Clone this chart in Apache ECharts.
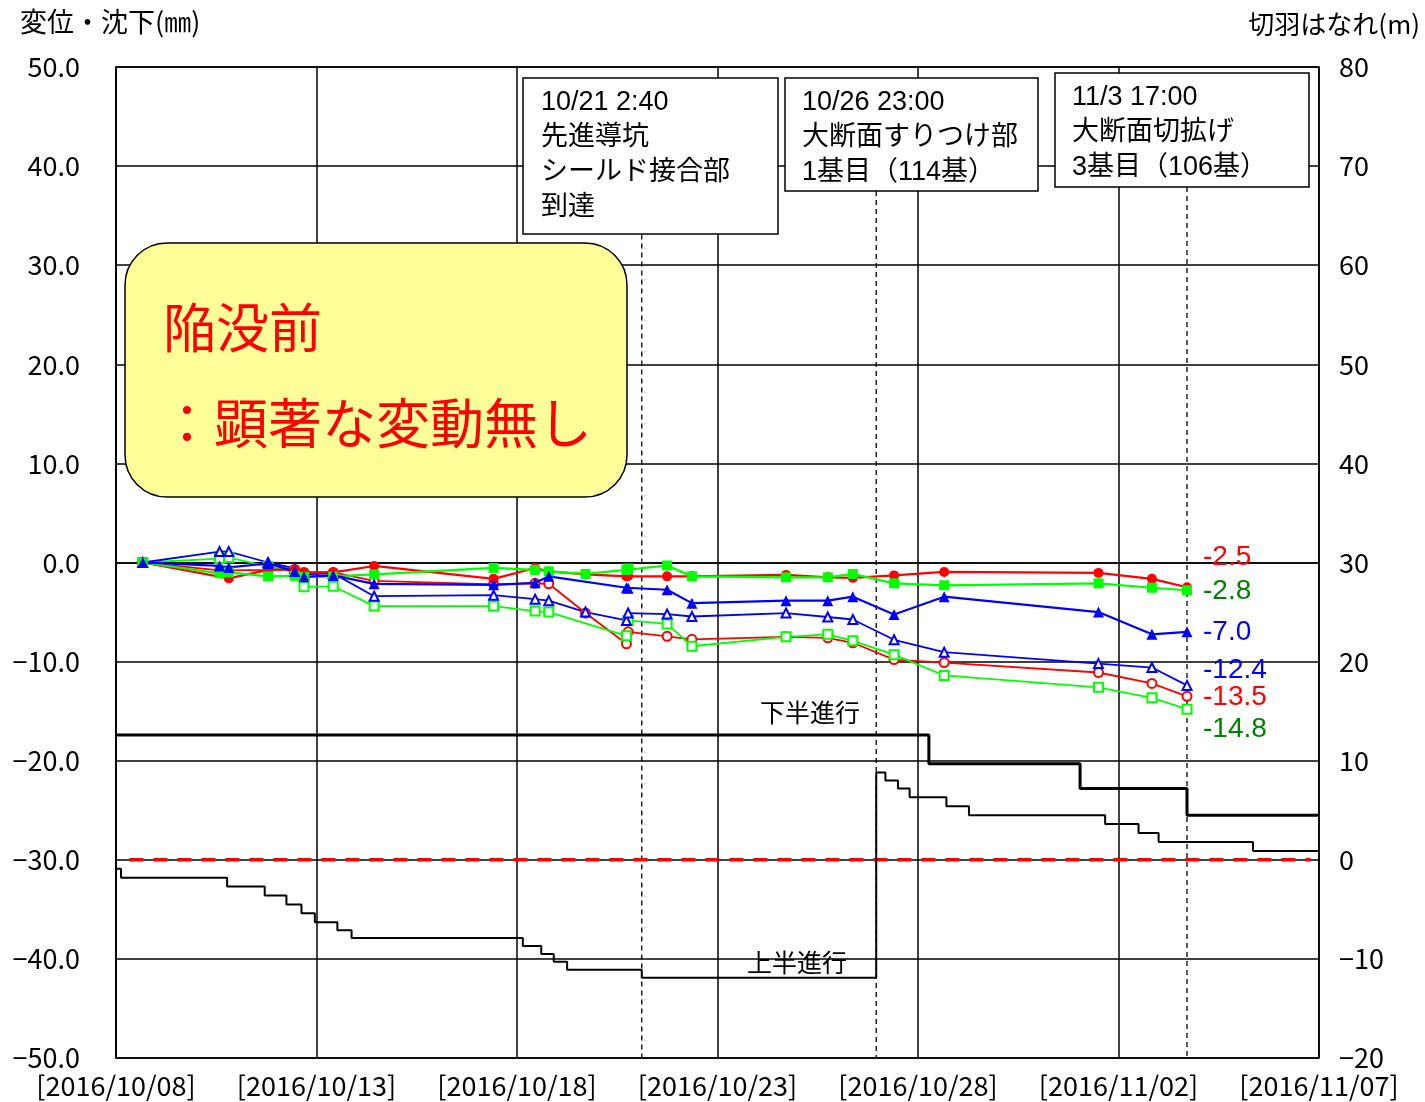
<!DOCTYPE html>
<html>
<head>
<meta charset="utf-8">
<script src="https://cdn.jsdelivr.net/npm/echarts@6/dist/echarts.min.js"></script>
<style>
  html, body { margin: 0; padding: 0; background: #fff; }
  #chart { width: 1425px; height: 1102px; }
</style>
</head>
<body>
<div id="chart"></div>
<script>
// Measurement times are "MM/DD HH:mm" in 2016; values in mm (left axis)
const crownFilled = [ // red ●
  ['10/08 16:00', 0], ['10/10 19:30', -1.6], ['10/11 19:00', -0.75], ['10/12 11:00', -0.7],
  ['10/12 16:30', -1.0], ['10/13 10:00', -1.0], ['10/14 10:30', -0.35], ['10/17 10:00', -1.65],
  ['10/18 10:50', -0.55], ['10/18 19:00', -0.9], ['10/19 17:00', -1.2], ['10/20 17:30', -1.4],
  ['10/20 18:30', -1.35], ['10/21 17:50', -1.4], ['10/22 08:40', -1.4], ['10/24 17:00', -1.25],
  ['10/25 18:00', -1.5], ['10/26 09:00', -1.55], ['10/27 09:40', -1.3], ['10/28 15:40', -0.95],
  ['11/01 12:00', -1.05], ['11/02 20:00', -1.65], ['11/03 17:00', -2.5]
];
const leftFilled = [ // green ■
  ['10/08 16:00', 0], ['10/10 14:00', -1.1], ['10/10 19:30', -1.0], ['10/11 19:00', -1.4],
  ['10/12 11:00', -1.35], ['10/12 16:30', -1.45], ['10/13 10:00', -1.4], ['10/14 10:30', -1.2],
  ['10/17 10:00', -0.55], ['10/18 10:50', -0.75], ['10/18 19:00', -0.9], ['10/19 17:00', -1.15],
  ['10/20 17:30', -0.75], ['10/20 18:30', -0.6], ['10/21 17:50', -0.3], ['10/22 08:40', -1.4],
  ['10/24 17:00', -1.5], ['10/25 18:00', -1.5], ['10/26 09:00', -1.15], ['10/27 09:40', -2.1],
  ['10/28 15:40', -2.3], ['11/01 12:00', -2.1], ['11/02 20:00', -2.55], ['11/03 17:00', -2.8]
];
const rightFilled = [ // blue ▲
  ['10/08 16:00', 0], ['10/10 14:00', -0.35], ['10/10 19:30', -0.5], ['10/11 19:00', -0.1],
  ['10/12 11:00', -0.9], ['10/12 16:30', -1.45], ['10/13 10:00', -1.3], ['10/14 10:30', -2.15],
  ['10/17 10:00', -2.25], ['10/18 10:50', -2.05], ['10/18 19:00', -1.4], ['10/20 17:30', -2.55],
  ['10/20 18:30', -2.6], ['10/21 17:50', -2.75], ['10/22 08:40', -4.1], ['10/24 17:00', -3.85],
  ['10/25 18:00', -3.85], ['10/26 09:00', -3.45], ['10/27 09:40', -5.25], ['10/28 15:40', -3.45],
  ['11/01 12:00', -5.0], ['11/02 20:00', -7.25], ['11/03 17:00', -7.0]
];
const crownOpen = [ // red ○
  ['10/08 16:00', 0], ['10/10 14:00', -0.8], ['10/10 19:30', -0.8], ['10/11 19:00', -0.75],
  ['10/12 11:00', -0.7], ['10/12 16:30', -1.0], ['10/13 10:00', -1.0], ['10/14 10:30', -1.85],
  ['10/17 10:00', -2.2], ['10/18 10:50', -2.1], ['10/18 19:00', -2.15], ['10/19 17:00', -5.1],
  ['10/20 17:30', -8.2], ['10/20 18:30', -7.0], ['10/21 17:50', -7.45], ['10/22 08:40', -7.75],
  ['10/24 17:00', -7.5], ['10/25 18:00', -7.6], ['10/26 09:00', -8.1], ['10/27 09:40', -9.8],
  ['10/28 15:40', -10.1], ['11/01 12:00', -11.1], ['11/02 20:00', -12.2], ['11/03 17:00', -13.5]
];
const leftOpen = [ // green □
  ['10/08 16:00', 0], ['10/10 14:00', 0.4], ['10/10 19:30', 0.5], ['10/11 19:00', -0.4],
  ['10/12 11:00', -1.0], ['10/12 16:30', -2.45], ['10/13 10:00', -2.4], ['10/14 10:30', -4.4],
  ['10/17 10:00', -4.4], ['10/18 10:50', -4.9], ['10/18 19:00', -5.0], ['10/20 17:30', -7.4],
  ['10/20 18:30', -5.85], ['10/21 17:50', -6.2], ['10/22 08:40', -8.45], ['10/24 17:00', -7.5],
  ['10/25 18:00', -7.25], ['10/26 09:00', -7.9], ['10/27 09:40', -9.3], ['10/28 15:40', -11.4],
  ['11/01 12:00', -12.6], ['11/02 20:00', -13.65], ['11/03 17:00', -14.8]
];
const rightOpen = [ // blue △
  ['10/08 16:00', 0], ['10/10 14:00', 1.1], ['10/10 19:30', 1.1], ['10/11 19:00', 0.0],
  ['10/12 11:00', -0.6], ['10/12 16:30', -1.2], ['10/13 10:00', -1.1], ['10/14 10:30', -3.4],
  ['10/17 10:00', -3.3], ['10/18 10:50', -3.7], ['10/18 19:00', -3.85], ['10/19 17:00', -5.0],
  ['10/20 17:30', -5.85], ['10/20 18:30', -5.1], ['10/21 17:50', -5.2], ['10/22 08:40', -5.45],
  ['10/24 17:00', -5.1], ['10/25 18:00', -5.5], ['10/26 09:00', -5.75], ['10/27 09:40', -7.8],
  ['10/28 15:40', -9.05], ['11/01 12:00', -10.2], ['11/02 20:00', -10.6], ['11/03 17:00', -12.4]
];

// Face distance in m (right axis), value holds until the next change
const lowerAdvance = [
  ['10/08 00:00', 12.6], ['10/28 06:30', 9.7], ['11/01 01:00', 7.2], ['11/03 17:00', 4.5], ['11/07 00:00', 4.5]
];
const upperAdvance = [
  ['10/08 00:00', -0.9], ['10/08 03:00', -1.8], ['10/10 18:30', -2.7], ['10/11 17:00', -3.6],
  ['10/12 06:00', -4.5], ['10/12 15:00', -5.4], ['10/12 23:00', -6.3], ['10/13 12:30', -7.1],
  ['10/13 21:00', -7.9], ['10/18 03:30', -8.7], ['10/18 14:30', -9.5], ['10/18 22:00', -10.3],
  ['10/19 06:00', -11.1], ['10/21 02:40', -11.9], ['10/26 23:00', 8.8], ['10/27 04:30', 8.0],
  ['10/27 12:00', 7.2], ['10/27 19:00', 6.3], ['10/28 17:00', 5.4], ['10/29 06:30', 4.5],
  ['11/01 16:00', 3.6], ['11/02 12:00', 2.7], ['11/03 00:00', 1.8], ['11/05 08:30', 0.9],
  ['11/07 00:00', 0.9]
];
const faceZero = [['10/08 08:00', 0], ['11/06 19:00', 0]];

const eventTimes = ['10/21 02:40', '10/26 23:00', '11/03 17:00'];
const eventTexts = [
  '10/21 2:40\n先進導坑\nシールド接合部\n到達',
  '10/26 23:00\n大断面すりつけ部\n1基目（114基）',
  '11/3 17:00\n大断面切拡げ\n3基目（106基）'
];

const xTickDays = [0, 5, 10, 15, 20, 25, 30];

const T0 = Date.UTC(2016, 9, 8);
function day(s) {
  const [md, hm] = s.split(' ');
  const [M, D] = md.split('/').map(Number);
  const [h, m] = hm.split(':').map(Number);
  return (Date.UTC(2016, M - 1, D, h, m) - T0) / 864e5;
}
const toXY = arr => arr.map(([t, v]) => [day(t), v]);
const pad = n => String(n).padStart(2, '0');
const minus = s => s.replace('-', '\u2212');

const RED = '#ff0000', GREEN = '#00ff00', BLUE = '#0000ff';
const axisFont = '"Noto Sans CJK JP", sans-serif';
const textFont = '"Liberation Sans", "Noto Sans CJK JP", sans-serif';

function measureSeries(name, data, color, symbol, open) {
  return {
    name, type: 'line', data: toXY(data), yAxisIndex: 0,
    symbol, symbolSize: open ? 9 : (symbol === 'triangle' ? 11 : 10),
    lineStyle: { color, width: open ? 1.8 : 2.2 },
    itemStyle: open ? { color, borderWidth: 1.5 } : { color },
    z: open ? 4 : 5, silent: true
  };
}

// vertical dashed lines under the event boxes (box bottoms in left-axis units)
const boxBottoms = [33.1, 37.5, 37.9];
const eventLines = eventTimes.map((t, i) => ({
  type: 'line', yAxisIndex: 0, symbol: 'none', silent: true,
  data: [[day(t), boxBottoms[i]], [day(t), -50]],
  lineStyle: { color: '#000', width: 1.3, type: [5, 4] }, z: 2
}));

const boxes = [
  { x: 523, y: 78, w: 255, h: 156, tx: 541, ty: 85 },
  { x: 785, y: 78, w: 253, h: 113, tx: 802, ty: 85 },
  { x: 1055, y: 73, w: 254, h: 114, tx: 1072, ty: 80 }
];
const boxGraphics = [];
boxes.forEach((b, i) => {
  boxGraphics.push({
    type: 'rect', z: 100, shape: { x: b.x, y: b.y, width: b.w, height: b.h },
    style: { fill: '#fff', stroke: '#000', lineWidth: 1.5 }
  });
  boxGraphics.push({
    type: 'text', z: 101, x: b.tx, y: b.ty,
    style: { text: eventTexts[i], font: '27px ' + textFont, fill: '#000', lineHeight: 35 }
  });
});

const lastVal = arr => arr[arr.length - 1][1].toFixed(1);
const endLabels = [
  { text: lastVal(crownFilled), color: '#ff0000', y: 557 },
  { text: lastVal(leftFilled), color: '#008000', y: 591 },
  { text: lastVal(rightFilled), color: '#0000ff', y: 632 },
  { text: lastVal(rightOpen), color: '#0000ff', y: 670 },
  { text: lastVal(crownOpen), color: '#ff0000', y: 697 },
  { text: lastVal(leftOpen), color: '#008000', y: 729 }
].map(l => ({
  type: 'text', z: 90, x: 1203, y: l.y,
  style: { text: l.text, font: '28px ' + textFont, fill: l.color, verticalAlign: 'middle' }
}));

const chart = echarts.init(document.getElementById('chart'), null, { renderer: 'canvas' });
chart.setOption({
  animation: false,
  backgroundColor: '#fff',
  grid: { left: 116, right: 106, top: 67, bottom: 44, show: true, borderColor: '#000', borderWidth: 1.5, backgroundColor: 'transparent' },
  xAxis: {
    type: 'value', min: 0, max: 30, interval: 5,
    axisLine: { show: true, lineStyle: { color: '#000', width: 1.5 } },
    axisTick: { show: false },
    splitLine: { show: true, lineStyle: { color: '#000', width: 1.5 } },
    axisLabel: {
      margin: 14, color: '#000', fontSize: 27, fontFamily: axisFont,
      customValues: xTickDays,
      formatter: v => {
        const d = new Date(T0 + v * 864e5);
        return '[' + d.getUTCFullYear() + '/' + pad(d.getUTCMonth() + 1) + '/' + pad(d.getUTCDate()) + ']';
      }
    }
  },
  yAxis: [
    {
      type: 'value', min: -50, max: 50, interval: 10,
      axisLine: { show: true, lineStyle: { color: '#000', width: 1.5 } },
      axisTick: { show: false },
      splitLine: { show: true, lineStyle: { color: '#000', width: 1.5 } },
      axisLabel: { margin: 36, color: '#000', fontSize: 27, fontFamily: axisFont, formatter: v => minus(v.toFixed(1)) }
    },
    {
      type: 'value', min: -20, max: 80, interval: 10, position: 'right',
      axisLine: { show: false }, axisTick: { show: false }, splitLine: { show: false },
      axisLabel: { margin: 20, color: '#000', fontSize: 27, fontFamily: axisFont, formatter: v => minus(String(v)) }
    }
  ],
  series: [
    {
      name: '切羽ゼロ', type: 'line', yAxisIndex: 1, symbol: 'none', silent: true,
      data: toXY(faceZero), lineStyle: { color: '#ff0000', width: 3.5, type: [14, 10] }, z: 3
    },
    {
      name: '下半進行', type: 'line', yAxisIndex: 1, step: 'end', symbol: 'none', silent: true,
      data: toXY(lowerAdvance), lineStyle: { color: '#000', width: 3 }, z: 3
    },
    {
      name: '上半進行', type: 'line', yAxisIndex: 1, step: 'end', symbol: 'none', silent: true,
      data: toXY(upperAdvance), lineStyle: { color: '#000', width: 2 }, z: 3
    },
    ...eventLines,
    measureSeries('天端○', crownOpen, RED, 'emptyCircle', true),
    measureSeries('左□', leftOpen, GREEN, 'emptyRect', true),
    measureSeries('右△', rightOpen, BLUE, 'emptyTriangle', true),
    measureSeries('天端●', crownFilled, RED, 'circle', false),
    measureSeries('左■', leftFilled, GREEN, 'rect', false),
    measureSeries('右▲', rightFilled, BLUE, 'triangle', false)
  ],
  graphic: [
    { type: 'text', x: 20, y: 22, z: 90, style: { text: '変位・沈下(㎜)', font: '27px ' + axisFont, fill: '#000', verticalAlign: 'middle' } },
    { type: 'text', x: 1420, y: 24, z: 90, style: { text: '切羽はなれ(m)', font: '26px ' + axisFont, fill: '#000', align: 'right', verticalAlign: 'middle' } },
    {
      type: 'rect', z: 100, shape: { x: 125, y: 243, width: 502, height: 254, r: 42 },
      style: { fill: '#ffff99', stroke: '#000', lineWidth: 1.5 }
    },
    { type: 'text', z: 101, x: 163, y: 328, style: { text: '陥没前', font: '53px ' + axisFont, fill: '#ff0000', verticalAlign: 'middle' } },
    { type: 'text', z: 101, x: 160, y: 423, style: { text: '：顕著な変動無し', font: '54px ' + axisFont, fill: '#ff0000', verticalAlign: 'middle' } },
    { type: 'text', z: 90, x: 810, y: 712, style: { text: '下半進行', font: '25px ' + axisFont, fill: '#000', align: 'center', verticalAlign: 'middle' } },
    { type: 'text', z: 90, x: 797, y: 962, style: { text: '上半進行', font: '25px ' + axisFont, fill: '#000', align: 'center', verticalAlign: 'middle' } },
    ...boxGraphics,
    ...endLabels
  ]
});
</script>
</body>
</html>
